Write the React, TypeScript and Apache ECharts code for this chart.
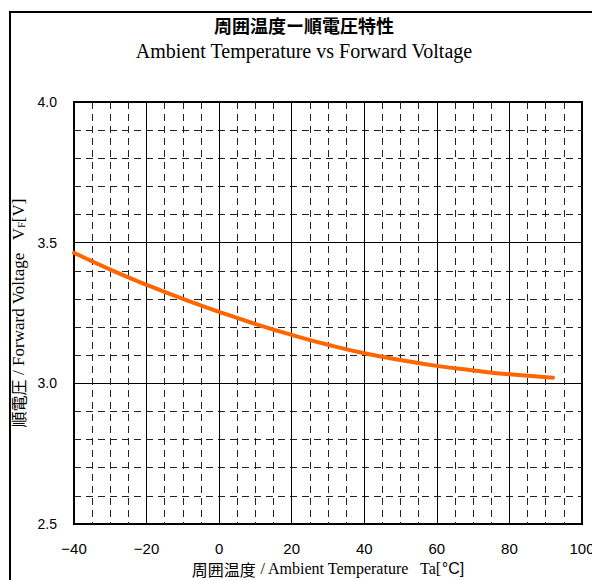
import React, { useEffect, useRef } from "react";
import * as echarts from "echarts";

const temps = [-40, -30, -20, -10, 0, 10, 20, 30, 40, 50, 60, 70, 80, 92];
const vf = [3.464, 3.404, 3.35, 3.3, 3.254, 3.211, 3.172, 3.137, 3.107, 3.083, 3.062, 3.046, 3.032, 3.02];
const title = "周囲温度ー順電圧特性";
const subtitle = "Ambient Temperature vs Forward Voltage";

export default function App() {
  const ref = useRef<HTMLDivElement>(null);
  useEffect(() => {
    if (!ref.current) return;
    const chart = echarts.init(ref.current, null, { renderer: "svg" });
    const serif = "'Liberation Serif', 'Times New Roman', serif";
    const sans = "'Liberation Sans', Arial, sans-serif";
    const cjk = "'Noto Sans CJK JP', sans-serif";
    chart.setOption({
      animation: false,
      backgroundColor: "#fff",
      title: [
        {
          text: title,
          subtext: subtitle,
          left: "center",
          top: 3,
          itemGap: 7,
          textStyle: { fontFamily: cjk, fontSize: 18, fontWeight: "bold", color: "#000" },
          subtextStyle: { fontFamily: serif, fontSize: 20, color: "#000" },
        },
      ],
      grid: {
        left: 66,
        right: 18,
        top: 94,
        bottom: 56,
        show: true,
        borderColor: "#000",
        borderWidth: 2,
        outerBoundsMode: "none",
        containLabel: false,
      },
      xAxis: {
        type: "value",
        min: -40,
        max: 100,
        interval: 20,
        axisLine: { show: false },
        axisTick: { show: false },
        axisLabel: {
          margin: 17,
          fontFamily: sans,
          fontSize: 15,
          color: "#000",
          formatter: (v: number) => String(v).replace("-", "−"),
        },
        splitLine: { show: true, lineStyle: { color: "#000", width: 1 } },
        minorTick: { show: false, splitNumber: 4 },
        minorSplitLine: { show: true, lineStyle: { color: "#222", width: 1, type: [7, 5] } },
        name: "{c|周囲温度}{s| / Ambient Temperature   Ta[}{a|°C]}",
        nameLocation: "middle",
        nameGap: 34,
        nameTextStyle: {
          rich: {
            c: { fontFamily: cjk, fontSize: 16, color: "#000" },
            s: { fontFamily: serif, fontSize: 16, color: "#000" },
            a: { fontFamily: sans, fontSize: 16, color: "#000" },
          },
        },
      },
      yAxis: {
        type: "value",
        min: 2.5,
        max: 4.0,
        interval: 0.5,
        axisLine: { show: false },
        axisTick: { show: false },
        axisLabel: {
          margin: 17,
          fontFamily: sans,
          fontSize: 14,
          color: "#000",
          formatter: (v: number) => v.toFixed(1),
        },
        splitLine: { show: true, lineStyle: { color: "#000", width: 1 } },
        minorTick: { show: false, splitNumber: 5 },
        minorSplitLine: { show: true, lineStyle: { color: "#222", width: 1, type: [7, 5] } },
        name: "{c|順電圧}{s| / Forward Voltage   V}{sub|F}{s|[V]}",
        nameLocation: "middle",
        nameGap: 37,
        nameTextStyle: {
          rich: {
            c: { fontFamily: cjk, fontSize: 16, color: "#000" },
            s: { fontFamily: serif, fontSize: 17, color: "#000" },
            sub: { fontFamily: serif, fontSize: 10, color: "#000", padding: [6, 0, 0, 0] },
          },
        },
      },
      graphic: [
        {
          type: "rect",
          shape: { x: 2, y: 4, width: 585, height: 600 },
          style: { fill: "none", stroke: "#000", lineWidth: 2 },
          silent: true,
        },
        {
          type: "line",
          shape: { x1: 588, y1: 4, x2: 588, y2: 600 },
          style: { stroke: "#000", lineWidth: 2 },
          silent: true,
        },
      ],
      series: [
        {
          type: "line",
          data: temps.map((t, i) => [t, vf[i]]),
          smooth: true,
          showSymbol: false,
          symbol: "none",
          lineStyle: { color: "#ff6600", width: 4, cap: "round" },
        },
      ],
    });
    return () => chart.dispose();
  }, []);
  return <div ref={ref} style={{ width: 592, height: 572 }} />;
}
